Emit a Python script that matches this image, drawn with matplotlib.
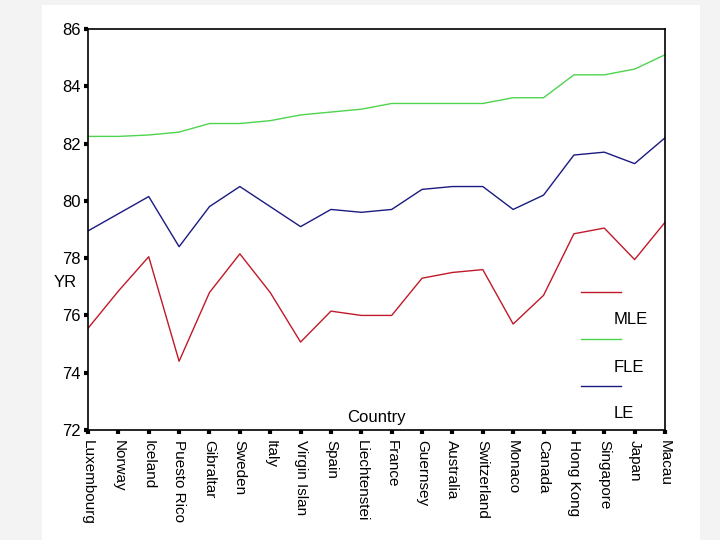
import matplotlib
matplotlib.use("Agg")
from matplotlib import pyplot as plt
from matplotlib.patches import Rectangle
import numpy as np

countries = ["Luxembourg", "Norway", "Iceland", "Puesto Rico", "Gibraltar", "Sweden",
             "Italy", "Virgin Islan", "Spain", "Liechtenstei", "France", "Guernsey",
             "Australia", "Switzerland", "Monaco", "Canada", "Hong Kong", "Singapore",
             "Japan", "Macau"]
fle = [82.25, 82.25, 82.3, 82.4, 82.7, 82.7, 82.8, 83.0, 83.1, 83.2,
       83.4, 83.4, 83.4, 83.4, 83.6, 83.6, 84.4, 84.4, 84.6, 85.1]
le = [78.95, 79.55, 80.15, 78.4, 79.8, 80.5, 79.8, 79.1, 79.7, 79.6,
      79.7, 80.4, 80.5, 80.5, 79.7, 80.2, 81.6, 81.7, 81.3, 82.2]
mle = [75.55, 76.85, 78.05, 74.4, 76.8, 78.15, 76.8, 75.07, 76.15, 76.0,
       76.0, 77.3, 77.5, 77.6, 75.7, 76.7, 78.85, 79.05, 77.95, 79.25]
yticks = [72, 74, 76, 78, 80, 82, 84, 86]

red = '#c0192a'
green = '#4fd44f'
blue = '#1a1a80'
font = ['Liberation Sans', 'DejaVu Sans']

fig = plt.figure(figsize=(7.2, 5.4), dpi=100, facecolor='#f3f3f3')
fig.patches.append(Rectangle((42 / 720, 0), 658 / 720, 1 - 5 / 540,
                             transform=fig.transFigure, facecolor='white',
                             edgecolor='none', zorder=-10))
ax = fig.add_axes([88 / 720, 1 - 430 / 540, 577 / 720, 401 / 540])
ax.set_zorder(1)

x = np.arange(len(countries))
ax.plot(x, mle, color=red, lw=1)
ax.plot(x, fle, color=green, lw=1)
ax.plot(x, le, color=blue, lw=1)

ax.set_xlim(0, len(countries) - 1)
ax.set_ylim(72, 86)
ax.set_yticks(yticks)
ax.set_yticklabels([str(t) for t in yticks], fontsize=12, family=font)
ax.set_xticks(x)
ax.set_xticklabels(countries, rotation=270, fontsize=11, family=font, va='top')
ax.tick_params(axis='both', direction='out', length=3, width=3, color='black', pad=2)
ax.tick_params(axis='x', pad=4)
for s in ax.spines.values():
    s.set_linewidth(1.2)
    s.set_color('black')

ax.text(-0.04, 0.367, 'YR', transform=ax.transAxes, fontsize=12, family=font,
        ha='center', va='center')
ax.text(0.5, 0.03, 'Country', transform=ax.transAxes, fontsize=12, family=font,
        ha='center', va='center')

# legend drawn SPSS-style: line above, label below
legend = [(red, 'MLE'), (green, 'FLE'), (blue, 'LE')]
x0, x1 = (581 - 88) / 577, (621 - 88) / 577
for i, (c, lab) in enumerate(legend):
    yl = (430 - (292 + i * 47)) / 401
    yt = (430 - (320 + i * 47)) / 401
    ax.plot([x0, x1], [yl, yl], color=c, lw=1, transform=ax.transAxes)
    ax.text((614 - 88) / 577, yt, lab, transform=ax.transAxes, fontsize=12,
            family=font, ha='left', va='center')

fig.savefig('out.png', dpi=100, facecolor=fig.get_facecolor())
